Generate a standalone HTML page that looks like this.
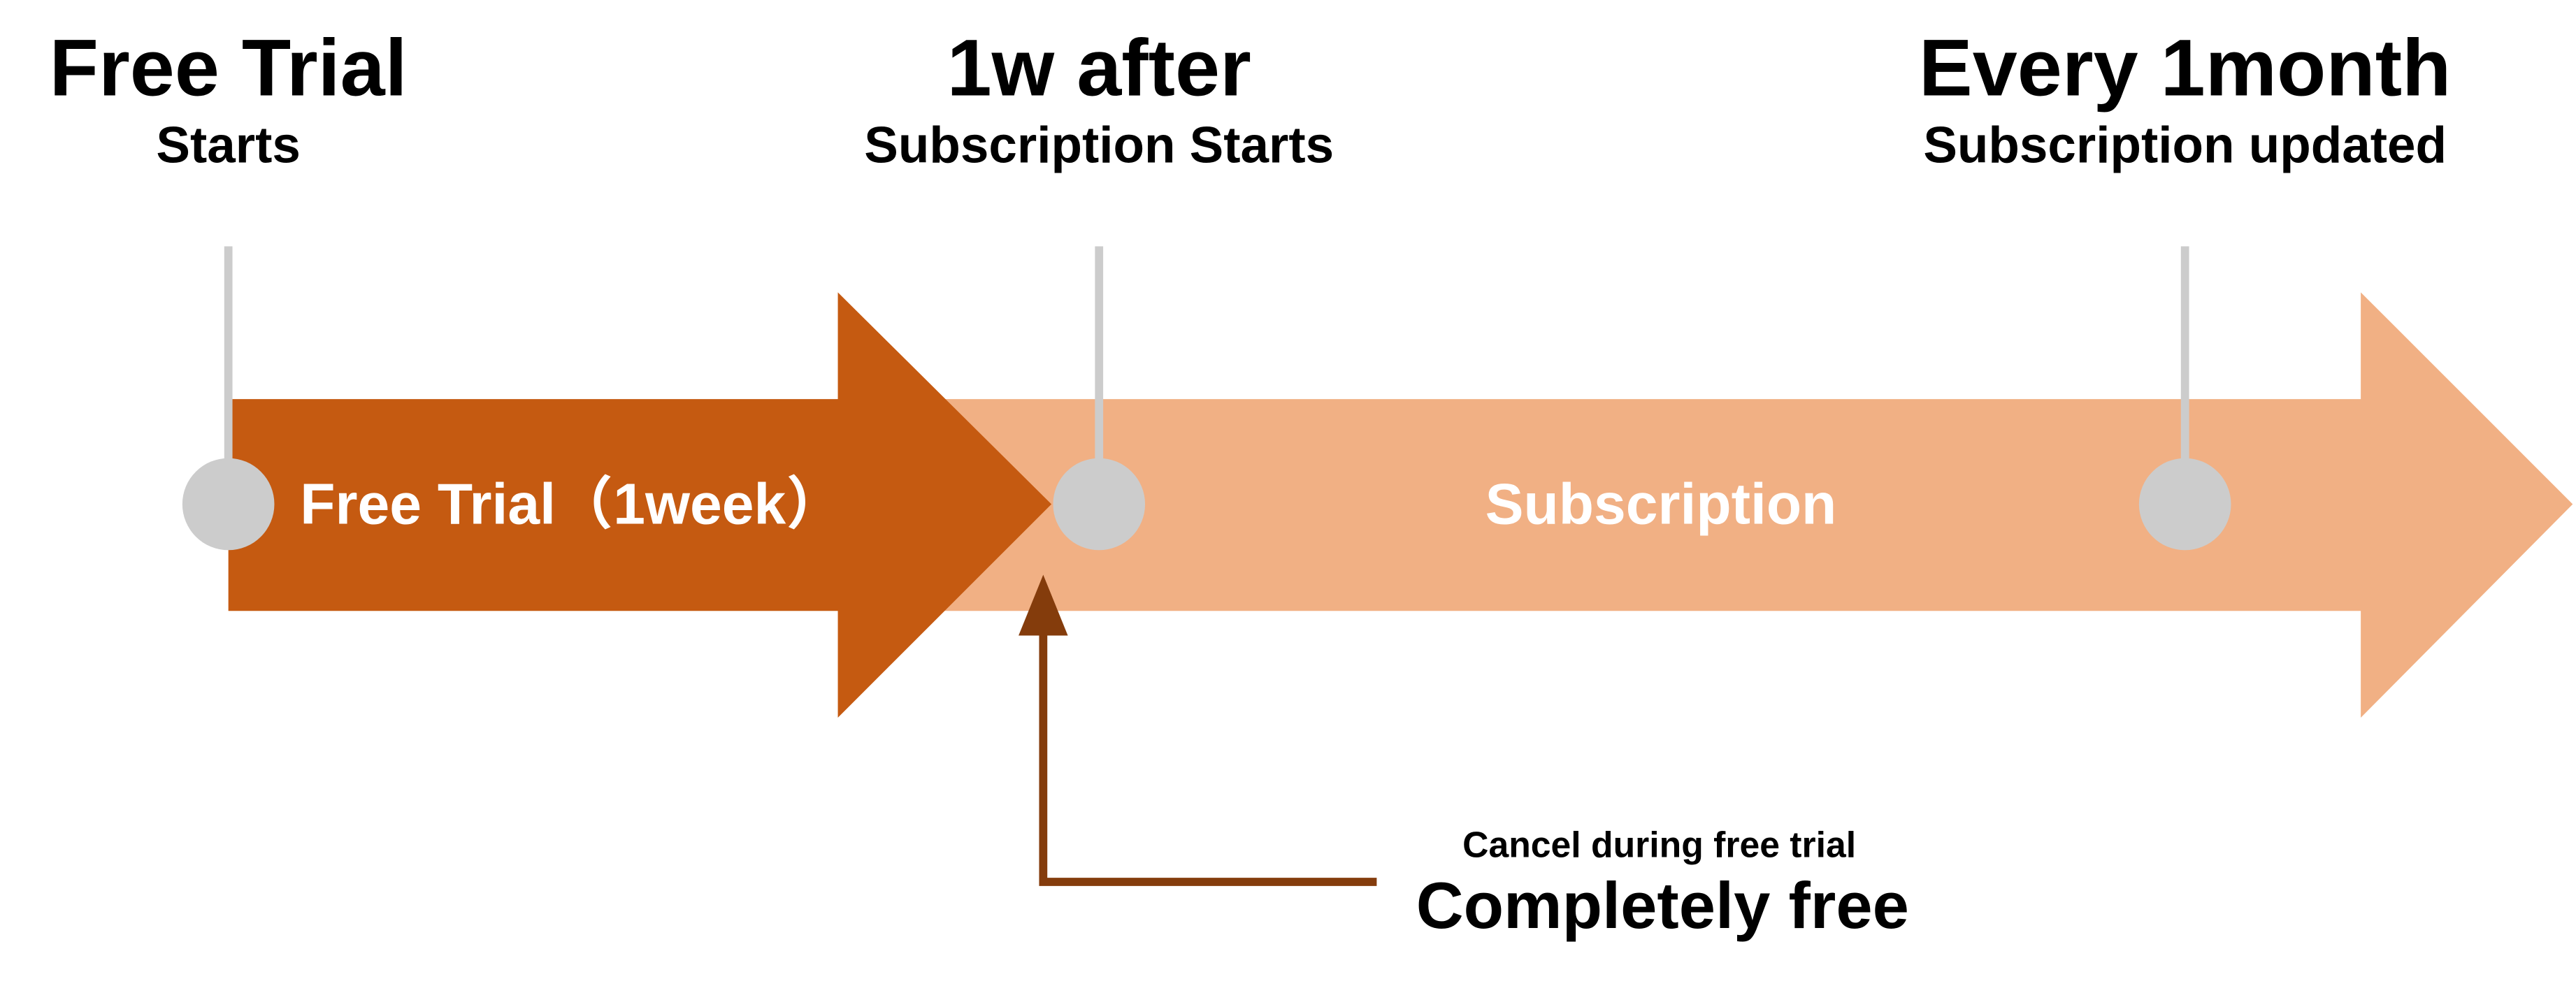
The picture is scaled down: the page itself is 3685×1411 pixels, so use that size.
<!DOCTYPE html>
<html><head><meta charset="utf-8"><style>
html,body{margin:0;padding:0;background:#fff;}
svg{display:block;}
text{font-family:"Liberation Sans","Noto Sans CJK JP",sans-serif;font-weight:bold;}
</style></head><body>
<svg width="3685" height="1411" viewBox="0 0 1568 600.4" preserveAspectRatio="none" xmlns="http://www.w3.org/2000/svg">
<rect width="1568" height="601" fill="#fff"/>
<polygon points="575,243 1437,243 1437,178 1566,307 1437,437 1437,372 575,372" fill="#F1B084"/>
<polygon points="139,243 510,243 510,178 640,307 510,437 510,372 139,372" fill="#C55A11"/>
<rect x="136.5" y="150" width="5" height="157" fill="#CCCCCC"/>
<rect x="666.5" y="150" width="5" height="157" fill="#CCCCCC"/>
<rect x="1327.5" y="150" width="5" height="157" fill="#CCCCCC"/>
<circle cx="139" cy="307" r="28" fill="#CCCCCC"/>
<circle cx="669" cy="307" r="28" fill="#CCCCCC"/>
<circle cx="1330" cy="307" r="28" fill="#CCCCCC"/>
<g text-anchor="middle" fill="#000">
<text x="139" y="58" font-size="49">Free Trial</text>
<text x="139" y="99" font-size="31">Starts</text>
<text x="669" y="58" font-size="49">1w after</text>
<text x="669" y="99" font-size="31">Subscription Starts</text>
<text x="1330" y="58" font-size="49">Every 1month</text>
<text x="1330" y="99" font-size="31">Subscription updated</text>
</g>
<g text-anchor="middle" fill="#fff">
<text x="348" y="319" font-size="35">Free Trial（1week）</text>
<text x="1011" y="319" font-size="35">Subscription</text>
</g>
<polyline points="838,537 635,537 635,385" fill="none" stroke="#843C0C" stroke-width="5"/>
<polygon points="620,387 650,387 635,350" fill="#843C0C"/>
<g text-anchor="middle" fill="#000">
<text x="1010" y="522" font-size="22">Cancel during free trial</text>
<text x="1012" y="565" font-size="40">Completely free</text>
</g>
</svg>
</body></html>
